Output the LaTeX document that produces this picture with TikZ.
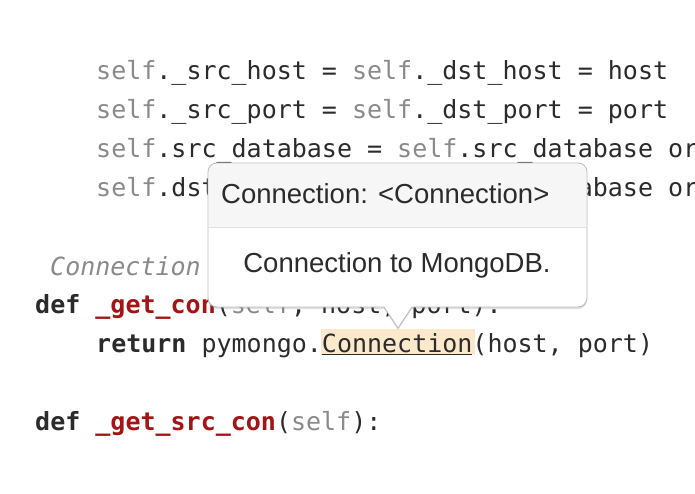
\documentclass[tikz,border=0pt]{standalone}
\usepackage{fontspec}
\setmonofont{DejaVu Sans Mono}
\newfontfamily\tipfont{Liberation Sans}
\usetikzlibrary{shadows}
\definecolor{selfc}{HTML}{8A8A8A}
\definecolor{codec}{HTML}{2B2B2B}
\definecolor{fnc}{HTML}{A31515}
\definecolor{hl}{HTML}{FCE9CC}
\definecolor{tiphead}{HTML}{F6F6F6}
\newcommand{\sv}{\textcolor{selfc}{self}}
\begin{document}
\begin{tikzpicture}[x=1pt,y=-1pt,
  code/.style={anchor=base west,inner sep=0pt,font=\ttfamily\fontsize{25}{28}\selectfont,text=codec},
  tip/.style={font=\tipfont\fontsize{27.5}{30}\selectfont,text=codec,inner sep=0pt}]
\useasboundingbox (0,0) rectangle (695,494);
\fill[white] (0,0) rectangle (695,494);
\begin{scope}
\clip (0,0) rectangle (695,494);
\fill[hl] (321,329) rectangle (475,355);
\node[code] (l1) at (96,80) {\sv.\_src\_host = \sv.\_dst\_host = host};
\node[code] (l2) at (96,119) {\sv.\_src\_port = \sv.\_dst\_port = port};
\node[code] (l3) at (96,158) {\sv.src\_database = \sv.src\_database or};
\node[code] (l4) at (96,197) {\sv.dst\_database = \sv.dst\_database or};
\node[code,text=selfc] (l5) at (50,275) {\itshape Connection};
\node[code] (l6) at (35,313) {\textbf{def} \textcolor{fnc}{\textbf{\_get\_con}}(\sv, host, port):};
\node[code] (l7) at (96,352) {\textbf{return} pymongo.\underline{Connection}(host, port)};
\node[code] (l8) at (35,430) {\textbf{def} \textcolor{fnc}{\textbf{\_get\_src\_con}}(\sv):};
\end{scope}
% tooltip
\path[fill=white,drop shadow={shadow xshift=0pt,shadow yshift=-2pt,opacity=0.25}]
  [rounded corners=9] (208,307) -- (208,163) -- (587,163) -- (587,307) [sharp corners]-- (412,307) -- (398,328) -- (384,307) [rounded corners=9] -- cycle;
\fill[tiphead, rounded corners=9] (209,164) rectangle (586,190);
\fill[tiphead] (209,180) rectangle (586,227);
\draw[gray!25] (209,227) -- (586,227);
\draw[gray!55,line width=0.8pt,rounded corners=9] (208,307) -- (208,163) -- (587,163) -- (587,307) [sharp corners]-- (412,307) -- (398,328) -- (384,307) [rounded corners=9] -- cycle;
\node[tip,anchor=west] (th) at (221,194) {Connection: <Connection>};
\node[tip] (tb) at (397,265) {Connection to MongoDB.};
\end{tikzpicture}
\end{document}
